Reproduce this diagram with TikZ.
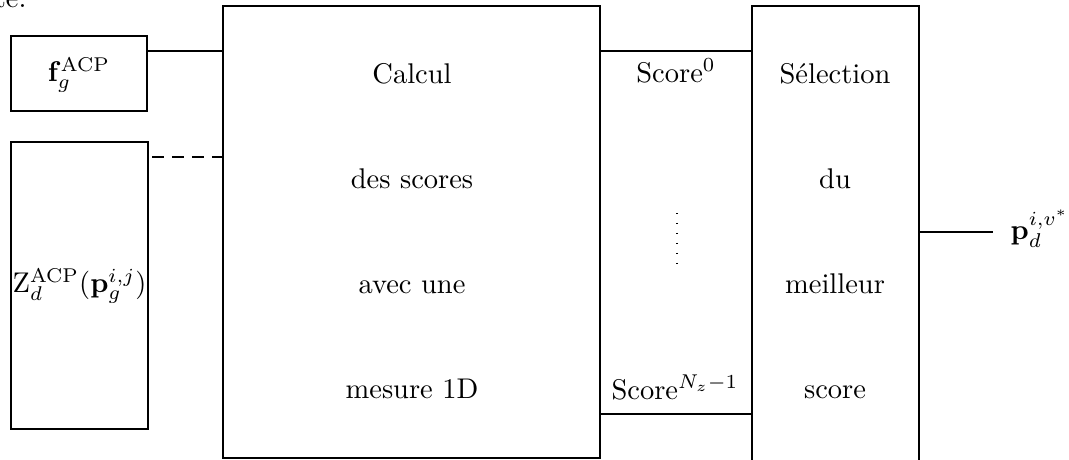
\documentclass[tikz,border=0pt]{standalone}
\usetikzlibrary{fit}
\begin{document}
\begin{tikzpicture}[x=0.351pt,y=-0.351pt,
  thinbox/.style={draw, line width=0.4pt, inner sep=0pt},
  bigbox/.style={draw, line width=1pt, inner sep=0pt},
  selbox/.style={draw, line width=0.6pt, inner sep=0pt},
  lbl/.style={inner sep=0pt},
  conn/.style={line width=0.45pt},
  dashconn/.style={line width=0.45pt, dash pattern=on 4.2pt off 2.8pt},
  dotconn/.style={line width=0.5pt, dash pattern=on 0.5pt off 3pt}]
\clip (0,0) rectangle (1069,459);
\node[lbl, anchor=base east] (cut) at (27,7) {ite.};
% boxes
\node[thinbox, fit={(11,36) (147,111)}] (f) {};
\node[thinbox, fit={(11,142) (148,429)}] (z) {};
\node[bigbox, fit={(223,6) (600,458)}] (calc) {};
\node[selbox, fit={(752,6) (919,480)}] (sel) {};
% labels of the input boxes
\node[lbl] (fl) at (79,75) {$\mathbf{f}_g^{\mathrm{ACP}}$};
\node[lbl] (zl) at (79.5,286) {$\mathrm{Z}_d^{\mathrm{ACP}}(\mathbf{p}_g^{i,j})$};
% texts of the big box
\node[lbl, anchor=base] (c1) at (412,83) {Calcul};
\node[lbl, anchor=base] (c2) at (412,188) {des scores};
\node[lbl, anchor=base] (c3) at (412,293) {avec une};
\node[lbl, anchor=base] (c4) at (412,398) {mesure 1D};
% texts of the selection box
\node[lbl, anchor=base] (s1) at (835,83) {Sélection};
\node[lbl, anchor=base] (s2) at (835,188) {du};
\node[lbl, anchor=base] (s3) at (835,293) {meilleur};
\node[lbl, anchor=base] (s4) at (835,398) {score};
% scores
\node[lbl, anchor=base] (sc0) at (676,82) {Score$^0$};
\node[lbl, anchor=base] (scN) at (675,399) {Score$^{N_z-1}$};
\coordinate (d1) at (677,213);
\coordinate (d2) at (677,266);
% output
\node[lbl, anchor=base west] (out) at (1010,239) {$\mathbf{p}_d^{i,v^*}$};
% helper coordinates
\coordinate (y1) at (0,51);
\coordinate (y2) at (0,157);
\coordinate (y3) at (0,414);
\coordinate (yo) at (0,232);
\coordinate (zs) at (152,157);
\coordinate (oe) at (993,232);
% connectors
\draw[conn] (f.east |- y1) -- (calc.west |- y1);
\draw[dashconn] (zs) -- (calc.west |- y2);
\draw[conn] (calc.east |- y1) -- (sel.west |- y1);
\draw[conn] (calc.east |- y3) -- (sel.west |- y3);
\draw[dotconn] (d1) -- (d2);
\draw[conn] (sel.east |- yo) -- (oe);
\end{tikzpicture}
\end{document}
